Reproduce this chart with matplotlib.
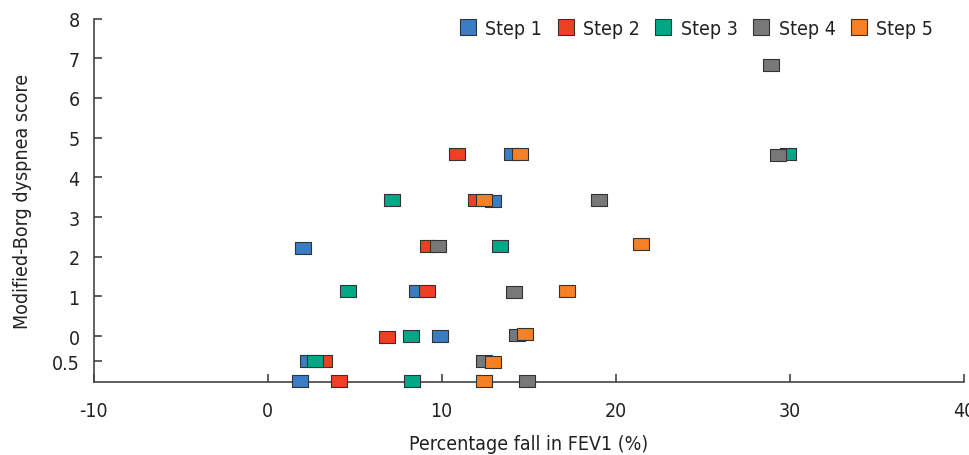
import matplotlib
matplotlib.use('Agg')
import matplotlib.pyplot as plt
from matplotlib.lines import Line2D

plt.rcParams['font.family'] = ['DejaVu Sans']
plt.rcParams['font.stretch'] = 'condensed'
plt.rcParams['axes.unicode_minus'] = False

# data (x = % fall in FEV1, y = Borg score position)
step1_x = [14.05, 12.92, 2.02, 8.56, 9.88, 2.30, 1.87]
step1_y = [4.59, 3.40, 2.23, 1.15, 0.00, -0.62, -1.12]
step2_x = [10.88, 11.97, 9.23, 9.14, 6.86, 3.24, 4.10]
step2_y = [4.59, 3.43, 2.28, 1.15, -0.02, -0.62, -1.12]
step3_x = [29.90, 7.15, 13.33, 4.60, 8.24, 2.73, 8.28]
step3_y = [4.60, 3.43, 2.28, 1.15, 0.00, -0.62, -1.12]
step4_x = [28.90, 29.30, 19.03, 9.79, 14.15, 14.32, 12.43, 14.88]
step4_y = [6.84, 4.57, 3.43, 2.28, 1.12, 0.02, -0.62, -1.12]
step5_x = [14.50, 12.41, 21.44, 17.17, 14.78, 12.93, 12.41]
step5_y = [4.59, 3.43, 2.33, 1.15, 0.05, -0.66, -1.12]

labels = ['Step 1', 'Step 2', 'Step 3', 'Step 4', 'Step 5']
colors = ['#3B7DC4', '#EF4023', '#00A887', '#787878', '#F58025']

ytick_pos = [8, 7, 6, 5, 4, 3, 2, 1, 0, -0.63]
ytick_lab = ['8', '7', '6', '5', '4', '3', '2', '1', '0', '0.5']
xticks = [-10, 0, 10, 20, 30, 40]

# wide rectangle marker
rect = [(-1, -0.69), (1, -0.69), (1, 0.69), (-1, 0.69), (-1, -0.69)]

fig = plt.figure(figsize=(9.7, 4.56), dpi=100)
ax = fig.add_axes([0.0964, 0.160, 0.8974, 0.797])

xs = [step1_x, step2_x, step3_x, step4_x, step5_x]
ys = [step1_y, step2_y, step3_y, step4_y, step5_y]
for i in range(5):
    ax.plot(xs[i], ys[i], linestyle='none', marker=rect, markersize=11.5,
            markerfacecolor=colors[i], markeredgecolor='#333333',
            markeredgewidth=0.8, clip_on=False, zorder=3 + i)

ax.set_xlim(-10, 40)
ax.set_ylim(-1.156, 8)
ax.set_xticks(xticks)
ax.set_yticks(ytick_pos)
ax.set_yticklabels(ytick_lab)

for s in ['top', 'right']:
    ax.spines[s].set_visible(False)
for s in ['left', 'bottom']:
    ax.spines[s].set_color('#444444')
    ax.spines[s].set_linewidth(1.2)

ax.tick_params(axis='both', direction='in', length=6, width=1.2,
               color='#444444', labelsize=14, labelcolor='#222222')
ax.tick_params(axis='x', pad=14)
ax.tick_params(axis='y', pad=10)

ax.set_xlabel('Percentage fall in FEV1 (%)', fontsize=14, color='#222222', labelpad=10)
ax.set_ylabel('Modified-Borg dyspnea score', fontsize=14, color='#222222', labelpad=14)

handles = [Line2D([], [], linestyle='none', marker='s', markersize=11,
                  markerfacecolor=c, markeredgecolor='#333333', markeredgewidth=0.8)
           for c in colors]
ax.legend(handles, labels, ncol=5, loc='center right', frameon=False,
          bbox_to_anchor=(0.972, 0.935), bbox_transform=fig.transFigure,
          fontsize=14, handlelength=0.9, handletextpad=0.45, columnspacing=0.75,
          labelcolor='#222222', borderpad=0)

plt.savefig('out.png', dpi=100)
